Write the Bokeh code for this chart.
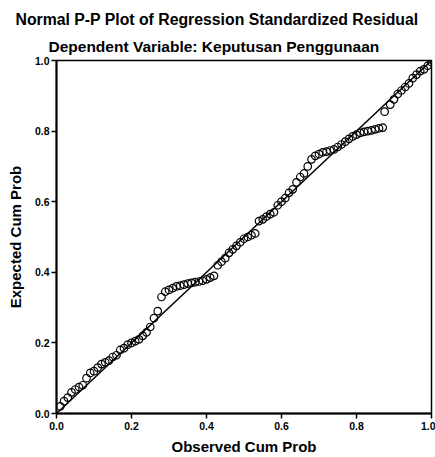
from bokeh.plotting import figure
from bokeh.models import Range1d, FixedTicker, NumeralTickFormatter, Title
from bokeh.embed import file_html
from bokeh.resources import INLINE

title_text = "Normal P-P Plot of Regression Standardized Residual"
subtitle_text = "Dependent Variable: Keputusan Penggunaan"
x_label = "Observed Cum Prob"
y_label = "Expected Cum Prob"
ticks = [0.0, 0.2, 0.4, 0.6, 0.8, 1.0]

observed = [0.01, 0.02, 0.03, 0.04, 0.05, 0.06, 0.07, 0.08, 0.09, 0.10,
            0.11, 0.12, 0.13, 0.14, 0.15, 0.16, 0.17, 0.18, 0.19, 0.20,
            0.21, 0.22, 0.23, 0.24, 0.25, 0.26, 0.27, 0.28, 0.29, 0.30,
            0.31, 0.32, 0.33, 0.34, 0.35, 0.36, 0.37, 0.38, 0.39, 0.40,
            0.41, 0.42, 0.43, 0.44, 0.45, 0.46, 0.47, 0.48, 0.49, 0.50,
            0.51, 0.52, 0.53, 0.54, 0.55, 0.56, 0.57, 0.58, 0.59, 0.60,
            0.61, 0.62, 0.63, 0.64, 0.65, 0.66, 0.67, 0.68, 0.69, 0.70,
            0.71, 0.72, 0.73, 0.74, 0.75, 0.76, 0.77, 0.78, 0.79, 0.80,
            0.81, 0.82, 0.83, 0.84, 0.85, 0.86, 0.87, 0.875, 0.89, 0.90,
            0.91, 0.92, 0.93, 0.94, 0.95, 0.96, 0.97, 0.98, 0.99, 1.00]
expected = [0.02, 0.035, 0.045, 0.06, 0.068, 0.075, 0.08, 0.10, 0.115, 0.12,
            0.13, 0.14, 0.145, 0.15, 0.16, 0.165, 0.18, 0.185, 0.195, 0.20,
            0.205, 0.21, 0.22, 0.23, 0.245, 0.27, 0.29, 0.33, 0.345, 0.35,
            0.355, 0.36, 0.362, 0.365, 0.368, 0.37, 0.372, 0.374, 0.376, 0.38,
            0.385, 0.39, 0.42, 0.43, 0.44, 0.455, 0.465, 0.475, 0.485, 0.495,
            0.50, 0.505, 0.51, 0.545, 0.55, 0.558, 0.565, 0.57, 0.59, 0.60,
            0.61, 0.625, 0.635, 0.655, 0.67, 0.68, 0.70, 0.72, 0.73, 0.735,
            0.74, 0.742, 0.745, 0.748, 0.755, 0.762, 0.77, 0.778, 0.785, 0.79,
            0.795, 0.798, 0.80, 0.802, 0.805, 0.808, 0.81, 0.855, 0.875, 0.89,
            0.905, 0.915, 0.925, 0.935, 0.95, 0.96, 0.97, 0.975, 0.985, 0.995]
ref_line = [0.0, 1.0]

FONT = "Liberation Sans"

p = figure(width=435, height=457, output_backend="svg", toolbar_location=None,
           x_range=Range1d(0, 1), y_range=Range1d(0, 1),
           min_border_left=56, min_border_right=4, min_border_top=60, min_border_bottom=44)
p.background_fill_color = "white"
p.border_fill_color = "white"
p.outline_line_color = "black"
p.outline_line_width = 1.5
p.xgrid.visible = False
p.ygrid.visible = False

p.line(ref_line, ref_line, line_color="black", line_width=1.5)
p.scatter(observed, expected, marker="circle", size=7.5, fill_color=None,
          line_color="black", line_width=1.2)

for ax in (p.xaxis[0], p.yaxis[0]):
    ax.ticker = FixedTicker(ticks=ticks)
    ax.formatter = NumeralTickFormatter(format="0.0")
    ax.axis_line_color = "black"
    ax.axis_line_width = 2
    ax.major_tick_line_color = "black"
    ax.major_tick_line_width = 1.5
    ax.major_tick_in = 0
    ax.major_tick_out = 5
    ax.minor_tick_line_color = None
    ax.major_label_text_font = FONT
    ax.major_label_text_font_style = "bold"
    ax.major_label_text_font_size = "10.5px"
    ax.major_label_text_color = "black"
    ax.axis_label_text_font = FONT
    ax.axis_label_text_font_style = "bold"
    ax.axis_label_text_font_size = "15px"
    ax.axis_label_text_color = "black"

p.xaxis.axis_label = x_label
p.yaxis.axis_label = y_label
p.xaxis.major_label_standoff = 3
p.xaxis.axis_label_standoff = 5
p.yaxis.major_label_standoff = 2
p.yaxis.axis_label_standoff = 8

p.add_layout(Title(text=subtitle_text, align="left", offset=-8,
                   text_font=FONT, text_font_style="bold", text_font_size="15.5px",
                   text_color="black", standoff=11), "above")
p.add_layout(Title(text=title_text, align="left", offset=-41,
                   text_font=FONT, text_font_style="bold", text_font_size="15.8px",
                   text_color="black", standoff=6), "above")

open("out.html", "w").write(file_html(p, INLINE))
